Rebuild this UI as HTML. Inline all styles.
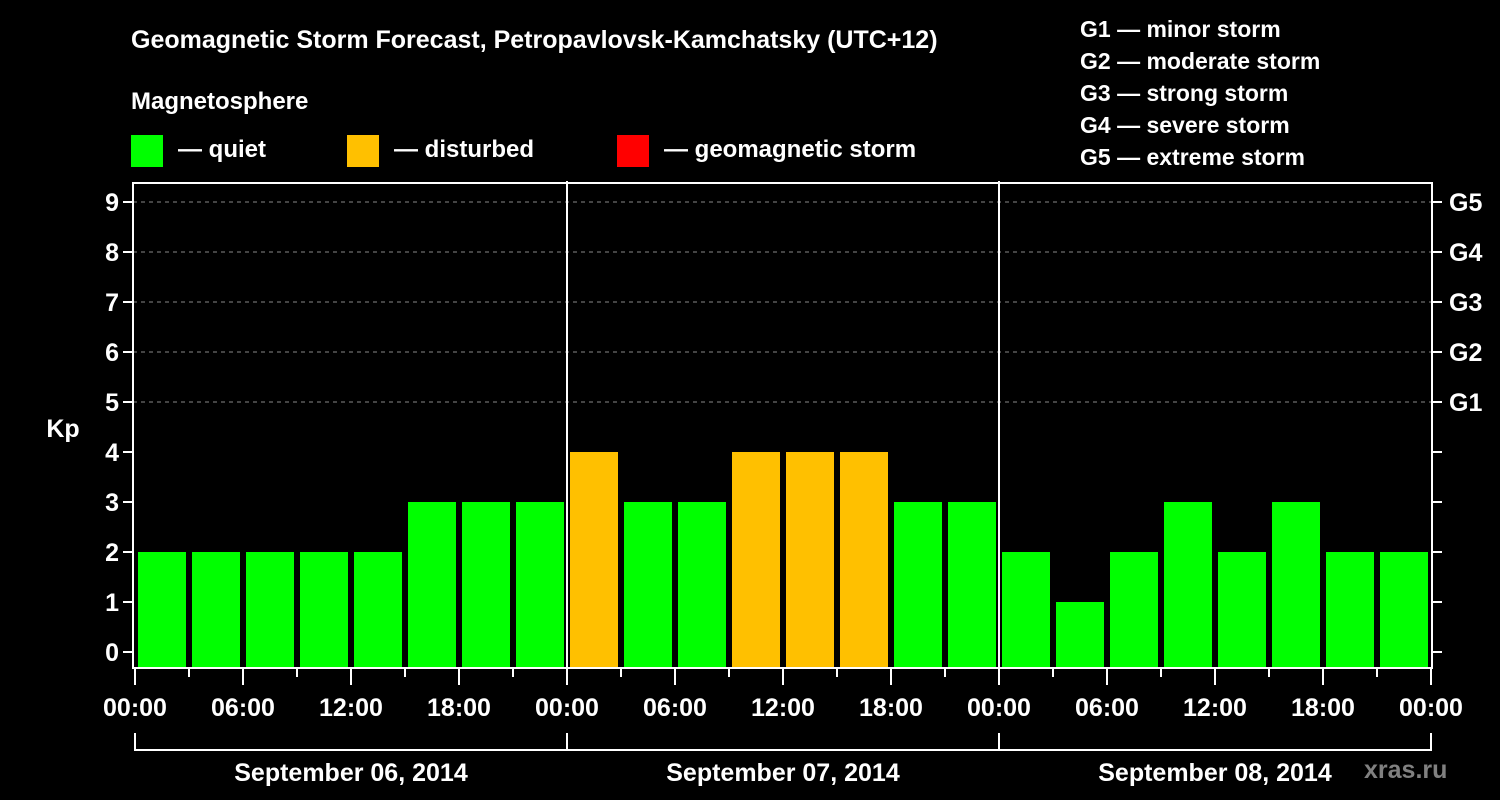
<!DOCTYPE html>
<html><head><meta charset="utf-8"><style>
html,body{margin:0;padding:0;background:#000;width:1500px;height:800px;overflow:hidden}
svg text{font-family:"Liberation Sans",sans-serif;font-weight:bold;fill:#fff}
</style></head><body>
<svg id="chart" width="1500" height="800" viewBox="0 0 1500 800">
<rect x="0" y="0" width="1500" height="800" fill="#000"/>
<text x="131" y="48" font-size="25">Geomagnetic Storm Forecast, Petropavlovsk-Kamchatsky (UTC+12)</text>
<text x="131" y="109" font-size="24">Magnetosphere</text>
<g><rect x="131" y="135" width="32" height="32" fill="#00ff00"/><text x="178" y="157" font-size="24">— quiet</text></g>
<g><rect x="347" y="135" width="32" height="32" fill="#ffc000"/><text x="394" y="157" font-size="24">— disturbed</text></g>
<g><rect x="617" y="135" width="32" height="32" fill="#ff0000"/><text x="664" y="157" font-size="24">— geomagnetic storm</text></g>
<g font-size="23">
<text x="1080" y="37">G1 — minor storm</text>
<text x="1080" y="69">G2 — moderate storm</text>
<text x="1080" y="101">G3 — strong storm</text>
<text x="1080" y="133">G4 — severe storm</text>
<text x="1080" y="165">G5 — extreme storm</text>
</g>
<text x="63" y="437" font-size="25" text-anchor="middle">Kp</text>
<text x="1364" y="778" font-size="25" fill="#808080" style="fill:#808080">xras.ru</text>
<g id="grid"></g><g id="bars"></g><g id="axes"></g>
</svg>
<script>
const kpValues = [2,2,2,2,2,3,3,3, 4,3,3,4,4,4,3,3, 2,1,2,3,2,3,2,2];
const dayLabels = ["September 06, 2014","September 07, 2014","September 08, 2014"];
const hourLabels = ["00:00","06:00","12:00","18:00"];
const yTicks = [0,1,2,3,4,5,6,7,8,9];
const gLabels = ["G1","G2","G3","G4","G5"];

const NS="http://www.w3.org/2000/svg";
const L=135, slot=54, plotTop=183, plotBottom=668, plotLeft=133, plotRight=1432;
const xPos=i=>L+slot*i;
const yPos=v=>652-50*v;
function mk(t,a,p){const e=document.createElementNS(NS,t);for(const k in a)e.setAttribute(k,a[k]);p.appendChild(e);return e;}
const grid=document.getElementById('grid'),bars=document.getElementById('bars'),axes=document.getElementById('axes');

[5,6,7,8,9].forEach(v=>{
 const g=mk('line',{x1:plotLeft,x2:plotRight,y1:yPos(v),y2:yPos(v),stroke:'#888','stroke-dasharray':'4,4','stroke-width':1},grid);
 
 
});
kpValues.forEach((v,i)=>{
 const r=mk('rect',{x:xPos(i)+3,y:yPos(v),width:48,height:plotBottom-yPos(v),fill:v>=5?'#ff0000':(v>=4?'#ffc000':'#00ff00')},bars);
 
 
});
const f=mk('rect',{x:plotLeft,y:plotTop,width:plotRight-plotLeft,height:plotBottom-plotTop,fill:'none',stroke:'#fff','stroke-width':2},axes);


[1,2].forEach(d=>{
 const l=mk('line',{x1:xPos(d*8),x2:xPos(d*8),y1:plotTop-2,y2:plotBottom,stroke:'#fff','stroke-width':2},axes);
 
 
});
yTicks.forEach(v=>{
 mk('line',{x1:plotLeft-10,x2:plotLeft,y1:yPos(v),y2:yPos(v),stroke:'#fff','stroke-width':2},axes);
 mk('line',{x1:plotRight,x2:plotRight+10,y1:yPos(v),y2:yPos(v),stroke:'#fff','stroke-width':2},axes);
 const t=mk('text',{x:plotLeft-14,y:yPos(v)+9,'font-size':25,'text-anchor':'end'},axes);
 t.textContent=v;
 
 
});
gLabels.forEach((g,i)=>{
 const t=mk('text',{x:plotRight+17,y:yPos(5+i)+9,'font-size':25},axes);
 t.textContent=g;
 
 
});
for(let i=0;i<=kpValues.length;i++){
 const major=i%2===0;
 mk('line',{x1:xPos(i),x2:xPos(i),y1:plotBottom,y2:plotBottom+(major?17:9),stroke:'#fff','stroke-width':2},axes);
 if(major){
  const t=mk('text',{x:xPos(i),y:716,'font-size':25,'text-anchor':'middle'},axes);
  t.textContent=hourLabels[(i/2)%4];
  
  
 }
}
const br=mk('path',{d:`M${xPos(0)} 733 V750 H${xPos(24)} V733 M${xPos(8)} 733 V750 M${xPos(16)} 733 V750`,stroke:'#fff','stroke-width':2,fill:'none'},axes);


dayLabels.forEach((d,i)=>{
 const t=mk('text',{x:(xPos(i*8)+xPos(i*8+8))/2,y:781,'font-size':25,'text-anchor':'middle'},axes);
 t.textContent=d;
 
 
});
</script>
</body></html>
